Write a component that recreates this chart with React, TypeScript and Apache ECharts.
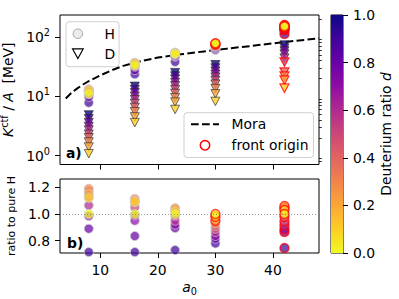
import React, { useEffect, useRef } from "react";
import * as echarts from "echarts";

// ---------------- data ----------------
const A0 = [8, 16, 23, 30, 42];
const D_H = [0, 0.1, 0.2, 0.3, 0.4, 0.5, 0.6, 0.7, 0.8, 0.9];
const D_D = [0.1, 0.2, 0.3, 0.4, 0.5, 0.6, 0.7, 0.8, 0.9, 1.0];

// K_ctf / A of H (MeV), rows = a0, columns = D_H
const H_K = [
  [11.0, 12.3, 12.7, 13.1, 12.9, 12.4, 11.7, 10.8, 9.8, 7.8],
  [33, 36, 36.3, 36.8, 36, 34.7, 32.7, 31.4, 27.6, 23.6],
  [52, 53, 54, 54.3, 53.6, 51.5, 49.4, 47.8, 46.5, 38],
  [78, 76.4, 74.1, 72.5, 71, 69.4, 67.5, 65.1, 63.6, 60.8],
  [150, 154.5, 159, 156.8, 147, 141.8, 137.3, 132.8, 129.8, 111.8],
];
// K_ctf / A of D (MeV), rows = a0, columns = D_D
const D_K = [
  [1.08, 1.4, 1.7, 2.0, 2.3, 2.7, 3.1, 3.6, 4.2, 4.85],
  [3.6, 4.5, 5.5, 6.5, 7.6, 8.8, 10, 11.5, 13, 14.7],
  [6.0, 8, 9.5, 11.2, 13, 15, 17, 19.5, 22, 25],
  [8.2, 11, 13.5, 16, 18.5, 21, 23.5, 26.5, 30, 34],
  [13.7, 18.7, 21.8, 25.6, 37.7, 44, 51.5, 58, 65, 73],
];
// H energy ratio to pure H, rows = a0, columns = D_H
const H_RATIO = [
  [1.0, 1.12, 1.15, 1.19, 1.17, 1.13, 1.065, 0.985, 0.89, 0.715],
  [1.0, 1.09, 1.1, 1.115, 1.09, 1.05, 0.99, 0.95, 0.835, 0.715],
  [1.0, 1.02, 1.04, 1.045, 1.03, 0.99, 0.95, 0.92, 0.895, 0.73],
  [1.0, 0.98, 0.95, 0.93, 0.91, 0.89, 0.865, 0.835, 0.815, 0.78],
  [1.0, 1.03, 1.06, 1.045, 0.98, 0.945, 0.915, 0.885, 0.865, 0.745],
];
// front-origin flags
const H_FRONT = [
  [0, 0, 0, 0, 0, 0, 0, 0, 0, 0],
  [0, 0, 0, 0, 0, 0, 0, 0, 0, 0],
  [0, 0, 0, 0, 0, 0, 0, 0, 0, 0],
  [1, 1, 1, 0, 0, 0, 0, 0, 0, 0],
  [1, 1, 1, 1, 1, 1, 1, 1, 1, 1],
];
const D_FRONT = [
  [0, 0, 0, 0, 0, 0, 0, 0, 0, 0],
  [0, 0, 0, 0, 0, 0, 0, 0, 0, 0],
  [0, 0, 0, 0, 0, 0, 0, 0, 0, 0],
  [0, 0, 0, 0, 0, 0, 0, 0, 0, 0],
  [1, 1, 1, 1, 1, 0, 0, 0, 0, 0],
];
// Mora model curve
const MORA_A0 = [4, 5, 6, 7, 8, 10, 12, 14, 16, 20, 24, 28, 32, 36, 40, 44, 48];
const MORA_K = [9.2, 11.5, 13.6, 15.8, 18, 22.5, 27.5, 32.5, 37, 45, 51, 57, 63.5, 70, 78, 86, 95];

const X_TICKS = [10, 20, 30, 40];
const Y_TOP_TICKS = [1, 10, 100];
const Y_TOP_MINOR = [0.8, 0.9, 2, 3, 4, 5, 6, 7, 8, 9, 20, 30, 40, 50, 60, 70, 80, 90, 200];
const Y_BOT_TICKS = [0.8, 1.0, 1.2];

// plasma colormap (0 -> 1)
const PLASMA = [
  "#0d0887", "#41049d", "#6a00a8", "#8f0da4", "#b12a90", "#cc4778",
  "#e16462", "#f2844b", "#fca636", "#fcce25", "#f0f921",
];
const PLASMA_R = PLASMA.slice().reverse();

const FONT = "DejaVu Sans";
const FS = 13.9;
const SFS = 9.7;

export default function App() {
  const ref = useRef<HTMLDivElement>(null);
  useEffect(() => {
    const chart = echarts.init(ref.current!, null, { renderer: "svg" });

    const hTop: any[] = [];
    const dTop: any[] = [];
    const hBot: any[] = [];
    A0.forEach((a, i) => {
      for (let j = D_D.length - 1; j >= 0; j--) {
        const it: any = { value: [a, D_K[i][j], D_D[j]] };
        if (D_FRONT[i][j]) it.itemStyle = { borderColor: "#ff0000", borderWidth: 1.2 };
        dTop.push(it);
      }
      for (let j = D_H.length - 1; j >= 0; j--) {
        const it: any = { value: [a, H_K[i][j], D_H[j]] };
        const ib: any = { value: [a, H_RATIO[i][j], D_H[j]] };
        if (H_FRONT[i][j]) {
          it.itemStyle = { borderColor: "#ff0000", borderWidth: 1.5 };
          ib.itemStyle = { borderColor: "#ff0000", borderWidth: 1.5 };
        }
        hTop.push(it);
        hBot.push(ib);
      }
    });

    const axisTxt = { color: "#000", fontFamily: FONT, fontSize: FS };
    const tickStyle = { color: "#000", width: 1 };

    const legendBase = {
      orient: "vertical",
      itemWidth: 28,
      itemHeight: 9.5,
      selectedMode: false,
      borderColor: "#d0d0d0",
      borderWidth: 1,
      borderRadius: 3,
      backgroundColor: "rgba(255,255,255,0.8)",
      textStyle: { color: "#000", fontFamily: FONT, fontSize: FS, lineHeight: 16, padding: [0, 0, 0, 7.5] },
    };

    const option: any = {
      animation: false,
      textStyle: { fontFamily: FONT },
      grid: [
        { left: 60, top: 15, width: 259, height: 149.5, show: true, borderColor: "#000", borderWidth: 1, backgroundColor: "transparent", outerBoundsMode: "none" },
        { left: 60, top: 179, width: 259, height: 74, show: true, borderColor: "#000", borderWidth: 1, backgroundColor: "transparent", outerBoundsMode: "none" },
        { left: 331, top: 15, width: 12, height: 238, show: true, borderColor: "#000", borderWidth: 1, backgroundColor: "transparent", outerBoundsMode: "none" },
      ],
      xAxis: [
        {
          gridIndex: 0, type: "value", min: 3, max: 48,
          axisLine: { show: false }, splitLine: { show: false },
          axisTick: { show: true, customValues: X_TICKS, length: 5, lineStyle: tickStyle },
          axisLabel: { show: false },
        },
        {
          gridIndex: 1, type: "value", min: 3, max: 48,
          axisLine: { show: false }, splitLine: { show: false },
          axisTick: { show: true, customValues: X_TICKS, length: 5, lineStyle: tickStyle },
          axisLabel: { show: true, customValues: X_TICKS, margin: 10, ...axisTxt },
          name: "{i|a}{s|0}", nameLocation: "middle", nameGap: 25,
          nameTextStyle: {
            ...axisTxt,
            rich: {
              i: { fontStyle: "italic", fontSize: FS, fontFamily: FONT, color: "#000" },
              s: { fontSize: SFS, fontFamily: FONT, color: "#000", padding: [8, 0, 0, 0] },
            },
          },
        },
        { gridIndex: 2, type: "category", data: ["cb"], show: false },
      ],
      yAxis: [
        {
          gridIndex: 0, type: "log", logBase: 10, min: 0.71, max: 234,
          axisLine: { show: false }, splitLine: { show: false },
          axisTick: { show: true, customValues: Y_TOP_TICKS, length: 5, lineStyle: tickStyle },
          axisLabel: {
            show: true, customValues: Y_TOP_TICKS, margin: 10,
            formatter: (v: number) => `{b|10}{s|${Math.round(Math.log10(v))}}`,
            rich: {
              b: { fontSize: FS, fontFamily: FONT, color: "#000" },
              s: { fontSize: SFS, fontFamily: FONT, color: "#000", padding: [0, 0, 9, 0] },
            },
          },
          name: "{i|K}{s|ctf}{n| / }{i|A}{n|  [MeV]}", nameLocation: "middle", nameGap: 22, nameRotate: 90,
          nameTextStyle: {
            ...axisTxt,
            rich: {
              i: { fontStyle: "italic", fontSize: FS, fontFamily: FONT, color: "#000" },
              s: { fontSize: SFS, fontFamily: FONT, color: "#000", padding: [0, 0, 8, 0] },
              n: { fontSize: FS, fontFamily: FONT, color: "#000" },
            },
          },
        },
        {
          gridIndex: 0, type: "log", logBase: 10, min: 0.71, max: 234,
          axisLine: { show: false }, splitLine: { show: false },
          axisTick: { show: true, customValues: Y_TOP_MINOR, length: 2.8, lineStyle: { color: "#000", width: 0.8 } },
          axisLabel: { show: false },
        },
        {
          gridIndex: 1, type: "value", min: 0.708, max: 1.262,
          axisLine: { show: false }, splitLine: { show: false },
          axisTick: { show: true, customValues: Y_BOT_TICKS, length: 5, lineStyle: tickStyle },
          axisLabel: { show: true, customValues: Y_BOT_TICKS, margin: 10, formatter: (v: number) => v.toFixed(1), ...axisTxt },
          name: "ratio to pure H", nameLocation: "middle", nameGap: 37, nameRotate: 90,
          nameTextStyle: { color: "#000", fontFamily: FONT, fontSize: 11 },
        },
        {
          gridIndex: 2, type: "value", min: 0, max: 1, interval: 0.2, position: "right",
          axisLine: { show: false }, splitLine: { show: false },
          axisTick: { show: true, length: 5, lineStyle: tickStyle },
          axisLabel: { show: true, margin: 10, formatter: (v: number) => v.toFixed(1), ...axisTxt },
          name: "Deuterium ratio {i|d}", nameLocation: "middle", nameGap: 36, nameRotate: 90,
          nameTextStyle: {
            ...axisTxt,
            rich: { i: { fontStyle: "italic", fontSize: FS, fontFamily: FONT, color: "#000" } },
          },
        },
      ],
      visualMap: [
        {
          type: "continuous", show: false, min: 0, max: 1, dimension: 2,
          seriesIndex: [1, 2, 3], inRange: { color: PLASMA_R },
        },
      ],
      legend: [
        {
          ...legendBase,
          left: 66, top: 21.7, itemGap: 4, padding: [4, 4, 5, 6],
          data: [
            { name: "H", icon: "circle", itemStyle: { color: "#ebebeb", borderColor: "#a8a8a8", borderWidth: 1, opacity: 1 } },
            { name: "D", icon: "path://M0,0L20,0L10,18Z", itemStyle: { color: "#ffffff", borderColor: "#000", borderWidth: 1.2, opacity: 1 } },
          ],
        },
        {
          ...legendBase,
          left: 184, top: 112.7, itemGap: 5, padding: [3.5, 5, 4.3, 6],
          data: [
            { name: "Mora", itemStyle: { color: "rgba(0,0,0,0)", borderWidth: 0, opacity: 0 } },
            { name: "front origin", icon: "circle", itemStyle: { color: "#ffffff", borderColor: "#ff0000", borderWidth: 1.5, opacity: 1 } },
          ],
        },
      ],
      graphic: [
        { type: "text", left: 66, top: 145.5, style: { text: "a)", font: `bold ${FS}px '${FONT}'`, fill: "#000" } },
        { type: "text", left: 67, top: 235.5, style: { text: "b)", font: `bold ${FS}px '${FONT}'`, fill: "#000" } },
      ],
      series: [
        {
          name: "Mora", type: "line", xAxisIndex: 0, yAxisIndex: 0, z: 1,
          data: MORA_A0.map((a, i) => [a, MORA_K[i]]),
          symbol: "none", showSymbol: false, smooth: false,
          lineStyle: { color: "#000", width: 2, type: [7.7, 3.3] },
          itemStyle: { color: "#000" },
        },
        {
          name: "D", type: "scatter", xAxisIndex: 0, yAxisIndex: 0, z: 3,
          symbol: "triangle", symbolRotate: 180, symbolSize: [9, 8.5],
          itemStyle: { opacity: 0.8, borderColor: "#222", borderWidth: 0.8 },
          data: dTop,
        },
        {
          name: "H", type: "scatter", xAxisIndex: 0, yAxisIndex: 0, z: 3,
          symbol: "circle", symbolSize: 9,
          itemStyle: { opacity: 0.72, borderColor: "#cfcfcf", borderWidth: 1 },
          data: hTop,
        },
        {
          name: "H ratio", type: "scatter", xAxisIndex: 1, yAxisIndex: 2, z: 3,
          symbol: "circle", symbolSize: 9,
          itemStyle: { opacity: 0.72, borderColor: "#cfcfcf", borderWidth: 1 },
          data: hBot,
        },
        {
          name: "ref", type: "line", xAxisIndex: 1, yAxisIndex: 2, z: 1, data: [],
          markLine: {
            silent: true, symbol: "none", label: { show: false },
            lineStyle: { color: "#808080", width: 0.8, type: [1, 2] },
            data: [{ yAxis: 1 }],
          },
        },
        { name: "front origin", type: "scatter", xAxisIndex: 0, yAxisIndex: 0, data: [] },
        {
          name: "colorbar", type: "bar", xAxisIndex: 2, yAxisIndex: 3, data: [1],
          barWidth: "100%", z: 1,
          itemStyle: {
            color: new echarts.graphic.LinearGradient(0, 0, 0, 1,
              PLASMA.map((c, k) => ({ offset: k / (PLASMA.length - 1), color: c }))),
          },
        },
      ],
    };
    chart.setOption(option);
    return () => chart.dispose();
  }, []);
  return <div ref={ref} style={{ position: "absolute", left: 0, top: 0, width: 399, height: 299 }} />;
}
